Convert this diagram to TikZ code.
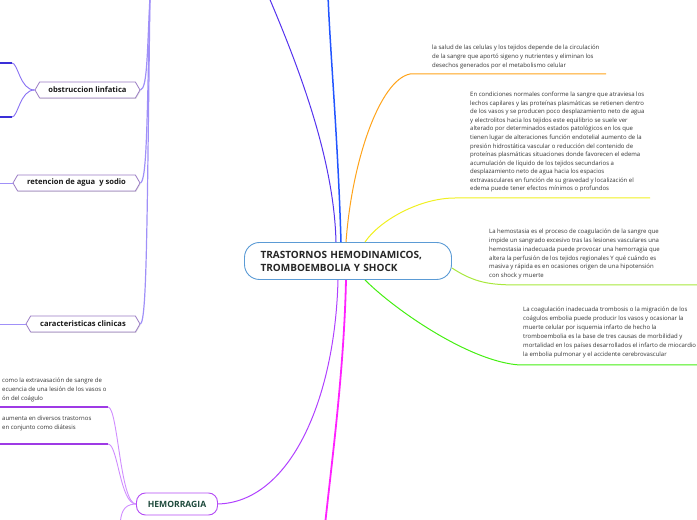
\documentclass[tikz,border=0pt]{standalone}
\usepackage{fontspec}
\setmainfont{Open Sans}
\usetikzlibrary{shapes,shadows,positioning}
\definecolor{hubline}{HTML}{5B9BD5}
\definecolor{topicline}{HTML}{9B7CC4}
\definecolor{lavender}{HTML}{A090F8}
\definecolor{deepblue}{HTML}{3A2FD8}
\definecolor{hemoline}{HTML}{B44CF5}
\definecolor{hemotext}{HTML}{1E4A3C}
\definecolor{lnblue}{HTML}{2255FF}
\definecolor{lnviolet}{HTML}{5533EE}
\definecolor{lnorange}{HTML}{FFA31A}
\definecolor{lnyellow}{HTML}{F0F020}
\definecolor{lnlime}{HTML}{A8E83C}
\definecolor{lngreen}{HTML}{44EE11}
\definecolor{lnmagenta}{HTML}{FF22FF}
\definecolor{lnpurple}{HTML}{B040FF}

\begin{document}
\begin{tikzpicture}[x=1pt, y=1pt,
hub/.style={rectangle, draw=hubline, line width=0.9pt, rounded corners=15pt, fill=white, text width=175pt, inner xsep=16pt, minimum height=37pt, align=left, text=black!85, font=\fontsize{10}{13}\selectfont\bfseries},
topic/.style={signal, signal to=west and east, signal pointer angle=120, draw=topicline, line width=0.8pt, fill=white, minimum height=16pt, inner xsep=2pt, text=black!90, font=\fontsize{7.6}{8}\selectfont\bfseries, drop shadow={shadow xshift=0.6pt, shadow yshift=-1pt, opacity=0.25}},
hemo/.style={rectangle, draw=hemoline, line width=0.9pt, rounded corners=9pt, fill=white, minimum width=81pt, minimum height=22pt, text=hemotext, font=\fontsize{8.6}{10}\selectfont\bfseries},
note/.style={anchor=north west, inner sep=0pt, align=left, text=black!80, font=\fontsize{6}{8.8}\selectfont},
link/.style={line width=1pt},
sublink/.style={line width=0.9pt, lavender},
underline/.style={line width=1.5pt, deepblue}
]
\useasboundingbox (0,0) rectangle (697,520);
\clip (0,0) rectangle (697,520);

\node[hub] (hub) at (348,259) {TRASTORNOS HEMODINAMICOS,\\TROMBOEMBOLIA Y SHOCK};

\node[note] (salud) at (432,475) {la salud de las celulas y los tejidos depende de la circulación\\de la sangre que aportó sigeno y nutrientes y eliminan los\\desechos generados por el metabolismo celular};
\node[note, font=\fontsize{6}{8.55}\selectfont] (edema) at (470,428) {En condiciones normales conforme la sangre que atraviesa los\\lechos capilares y las proteínas plasmáticas se retienen dentro\\de los vasos y se producen poco desplazamiento neto de agua\\y electrolitos hacia los tejidos este equilibrio se suele ver\\alterado por determinados estados patológicos en los que\\tienen lugar de alteraciones función endotelial aumento de la\\presión hidrostática vascular o reducción del contenido de\\proteínas plasmáticas situaciones donde favorecen el edema\\acumulación de líquido de los tejidos secundarios a\\desplazamiento neto de agua hacia los espacios\\extravasculares en función de su gravedad y localización el\\edema puede tener efectos mínimos o profundos};
\node[note] (hemostasia) at (489,291) {La hemostasia es el proceso de coagulación de la sangre que\\impide un sangrado excesivo tras las lesiones vasculares una\\hemostasia inadecuada puede provocar una hemorragia que\\altera la perfusión de los tejidos regionales Y qué cuándo es\\masiva y rápida es en ocasiones origen de una hipotensión\\con shock y muerte};
\node[note, font=\fontsize{6}{9}\selectfont] (trombo) at (523,213) {La coagulación inadecuada trombosis o la migración de los\\coágulos embolia puede producir los vasos y ocasionar la\\muerte celular por isquemia infarto de hecho la\\tromboembolia es la base de tres causas de morbilidad y\\mortalidad en los países desarrollados el infarto de miocardio\\la embolia pulmonar y el accidente cerebrovascular};

\node[topic, minimum width=105pt] (linfa) at (87.5,430) {obstruccion linfatica};
\node[topic, minimum width=127pt] (sodio) at (76.5,337) {retencion de agua\ \ y sodio};
\node[topic, minimum width=114pt] (clinica) at (83,196) {caracteristicas clinicas};
\node[hemo] (hemorragia) at (177,16) {HEMORRAGIA};

\node[note, font=\fontsize{6}{9}\selectfont] (extrav) at (2,142) {como la extravasación de sangre de\\ecuencia de una lesión de los vasos o\\ón del coágulo};
\node[note, font=\fontsize{6}{9}\selectfont] (diatesis) at (2,104) {aumenta en diversos trastornos\\en conjunto como diátesis};

\coordinate (topedge) at (150,525);
\coordinate (o1) at (410,446);
\coordinate (o2) at (606,446);
\coordinate (y1) at (455,322);
\coordinate (y2) at (650,322);
\coordinate (l1) at (520,235);
\coordinate (l2) at (697,235);
\coordinate (g1) at (520,155);
\coordinate (g2) at (697,155);
\coordinate (h1) at (108,113);
\coordinate (h1e) at (-2,113);
\coordinate (h2) at (108,76);
\coordinate (h2e) at (-2,76);

\draw[link, lnblue, line width=1.5pt] ([xshift=-7pt]hub.north) .. controls (338,380) and (330,470) .. (328,525);
\draw[link, lnviolet] ([xshift=-12pt]hub.north) .. controls (334,360) and (300,450) .. (268,525);
\draw[link, lnorange] ([xshift=-2pt]hub.north) .. controls (352,360) and (380,440) .. (o1) -- (o2);
\draw[link, lnyellow] ([xshift=17pt]hub.north) .. controls (380,300) and (420,322) .. (y1) -- (y2);
\draw[link, lnlime] ([yshift=-7pt]hub.east) .. controls (475,237) and (490,235) .. (l1) -- (l2);
\draw[link, lngreen] ([xshift=17pt]hub.south) .. controls (395,210) and (470,158) .. (g1) -- (g2);
\draw[link, lnmagenta, line width=1.8pt] ([xshift=-2pt]hub.south) .. controls (344,150) and (332,60) .. (325,-5);
\draw[link, lnpurple] ([xshift=-10pt]hub.south) .. controls (335,120) and (290,18) .. (hemorragia.east);

\draw[sublink, line width=1.2pt] (topedge) .. controls (147,460) and (147,432) .. (linfa.east);
\draw[sublink, line width=1.2pt] (topedge) .. controls (147,400) and (147,340) .. (sodio.east);
\draw[sublink, line width=1.2pt] (topedge) .. controls (147,300) and (147,200) .. (clinica.east);

\draw[sublink, lnviolet!70] (linfa.west) .. controls (20,430) and (18,457) .. (12,457);
\draw[underline] (12,457) -- (-2,457);
\draw[sublink, lnviolet!70] (linfa.west) .. controls (20,430) and (18,403) .. (12,403);
\draw[underline] (12,403) -- (-2,403);
\draw[sublink] (sodio.west) -- (-2,337);
\draw[sublink] (clinica.west) -- (-2,196);

\draw[sublink, lnpurple!60] (hemorragia.west) .. controls (120,16) and (118,113) .. (h1);
\draw[underline, lnpurple!90!black] (h1) -- (h1e);
\draw[sublink, lnpurple!60] (hemorragia.west) .. controls (120,16) and (118,76) .. (h2);
\draw[underline, lnpurple!90!black] (h2) -- (h2e);
\draw[sublink, lnpurple!60] (hemorragia.west) .. controls (122,16) and (121,5) .. (120,-5);
\end{tikzpicture}
\end{document}
